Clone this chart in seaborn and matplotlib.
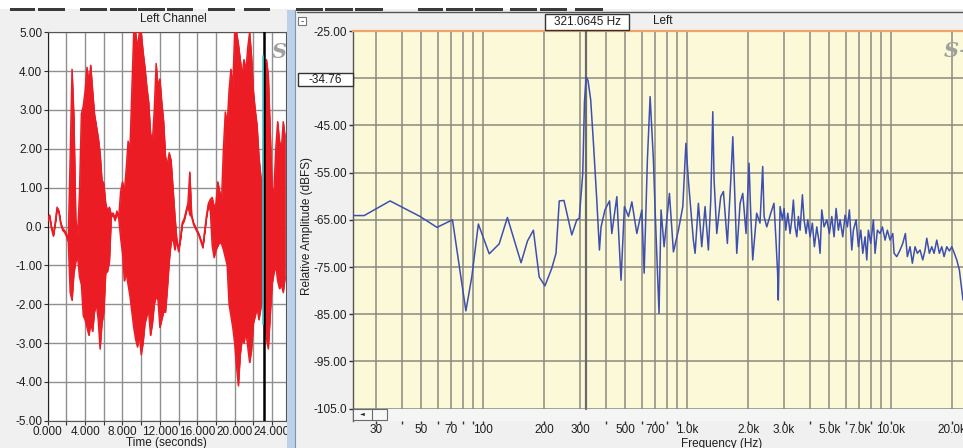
import numpy as np
import pandas as pd
import matplotlib
matplotlib.use("Agg")
import matplotlib.pyplot as plt
import seaborn as sns
from matplotlib.patches import Rectangle
from matplotlib.ticker import FixedLocator, FixedFormatter, NullFormatter

# ---------------- data ----------------
wave_step = 0.2  # seconds between envelope samples
wave_top = [
    0.2, 0.3, 0.0, -0.2, 0.1, 0.5, 0.4, 0.1, -0.05, -0.1,
    -0.2, -0.3, 1.8, 4.05, 2.8, 0.2, -0.2, 0.9, 2.9, 3.1,
    3.5, 4.1, 3.7, 4.15, 3.5, 2.9, 2.6, 2.3, 1.9, 1.2,
    1.1, 0.6, 0.4, 0.5, 0.3, 0.35, 0.2, 0.4, 0.25, 0.9,
    1.15, 0.9, 1.5, 2.2, 2.0, 3.5, 5.0, 5.0, 4.6, 5.0,
    5.0, 4.5, 4.1, 3.6, 3.2, 2.4, 2.2, 3.0, 4.2, 3.6,
    3.8, 3.2, 2.7, 1.8, 1.6, 1.9, 1.7, 1.0, 0.3, -0.3,
    -0.6, -0.3, 0.1, 0.2, 0.4, 0.6, 1.4, 0.3, 0.1, 0.0,
    -0.1, -0.2, -0.35, -0.5, -0.1, 0.3, 0.6, 0.7, 0.75, 0.5,
    0.6, 1.15, 0.9, 0.7, 2.0, 2.95, 2.6, 3.5, 4.05, 3.6,
    5.0, 5.0, 4.7, 4.3, 3.9, 4.3, 4.0, 4.6, 5.0, 4.4,
    3.5, 3.0, 2.6, 1.8, 1.3, 1.0, 3.5, 4.3, 3.9, 2.5,
    1.0, 0.9, 2.0, 2.7, 2.2, 2.0, 2.7, 2.3,
]
wave_bottom = [
    0.15, 0.25, -0.05, -0.25, 0.05, 0.45, 0.35, 0.05, -0.1, -0.15,
    -0.25, -0.4, -1.7, -1.9, -1.2, -0.9, -0.8, -1.3, -1.5, -2.3,
    -2.4, -2.6, -2.8, -2.5, -2.7, -2.2, -2.0, -2.4, -3.15, -2.5,
    -2.2, -1.2, -1.15, -0.9, 0.25, 0.3, 0.15, 0.35, 0.2, -0.3,
    -0.7, -1.4, -1.2, -1.5, -1.8, -2.2, -2.6, -2.9, -3.1, -2.8,
    -3.3, -3.0, -2.5, -2.3, -2.2, -2.8, -2.5, -2.0, -1.8, -1.9,
    -2.6, -2.4, -2.2, -2.2, -1.6, -0.9, -0.4, -0.3, -0.6, -0.35,
    -0.65, -0.35, 0.05, 0.15, 0.35, 0.55, 0.3, 0.25, 0.05, -0.05,
    -0.15, -0.25, -0.4, -0.55, -0.15, 0.25, 0.55, 0.4, -0.5, -0.8,
    -0.6, -0.5, -0.4, -0.45, -0.6, -0.8, -1.0, -2.0, -2.3, -2.6,
    -3.0, -3.6, -4.1, -3.3, -2.9, -3.0, -2.7, -3.1, -3.5, -3.2,
    -2.5, -2.3, -2.1, -2.4, -2.1, -1.8, -2.5, -2.9, -3.15, -2.3,
    -1.5, -1.2, -1.0, -1.4, -1.6, -1.5, -1.7, -1.3,
]
cursor_time = 23.17

spec_freq = [
    23.1, 26.2, 35.1, 49.3, 59.6, 71.0, 82.6, 88.3, 95.1, 107.5,
    120.3, 132, 154, 165.5, 177, 189, 201.6, 217.7, 228.5, 237,
    250, 273, 289, 297, 309, 315, 321.06, 328, 338, 348.7,
    362, 373, 380, 397, 418, 429, 454, 476, 494.5, 518,
    538, 569, 602, 618, 641, 661, 686, 699, 731, 748,
    774, 822, 860, 910, 956, 990, 1018, 1077, 1098, 1140,
    1184, 1229, 1276, 1311, 1341, 1361, 1403, 1467, 1512, 1581,
    1643, 1681, 1712, 1758, 1825, 1881, 1952, 2019, 2058, 2105,
    2201, 2285, 2356, 2393, 2467, 2581, 2675, 2737, 2788, 2809,
    2867, 2943, 2999, 3057, 3127, 3209, 3271, 3331, 3396, 3462,
    3525, 3593, 3688, 3758, 3844, 3918, 4021, 4127, 4222, 4338,
    4437, 4502, 4589, 4710, 4857, 5000, 5138, 5272, 5395, 5536,
    5643, 5817, 5970, 6128, 6268, 6440, 6558, 6760, 6938, 7128,
    7290, 7482, 7628, 7766, 7980, 8217, 8375, 8597, 8863, 9097,
    9377, 9623, 9922, 10228, 10380, 10700, 11106, 11449, 11792, 12061,
    12432, 12760, 13154, 13500, 13917, 14350, 14727, 15014, 15460, 15885,
    16304, 16807, 17306, 17783, 18253, 18816, 19379, 19908, 20502, 21062,
    21692, 22284, 22600,
]
spec_db = [
    -64.1, -64.1, -61.0, -64.3, -66.6, -65.0, -84.3, -77.1, -65.9, -72.2,
    -70.1, -64.5, -74.1, -69.5, -67.2, -77.1, -79.0, -75.3, -72.1, -61.0,
    -60.9, -68.2, -65.0, -64.7, -55.2, -40.0, -34.76, -35.5, -39.6, -48.8,
    -60.8, -71.4, -66.5, -62.9, -61.0, -67.9, -60.1, -77.8, -62.2, -64.3,
    -61.2, -67.9, -62.9, -76.3, -52.3, -38.9, -52.3, -62.6, -84.8, -62.9,
    -70.7, -59.4, -71.8, -67.2, -62.2, -48.8, -56.6, -69.3, -72.1, -61.5,
    -70.7, -62.2, -71.4, -60.8, -42.1, -56.6, -67.9, -60.1, -59.0, -70.0,
    -56.6, -47.4, -57.3, -72.1, -61.5, -59.4, -67.9, -53.0, -63.6, -73.5,
    -63.6, -65.7, -53.7, -64.3, -66.5, -63.6, -61.5, -69.3, -76.3, -82.0,
    -62.2, -65.0, -62.6, -67.2, -63.6, -67.9, -65.0, -60.8, -66.5, -68.6,
    -64.3, -67.2, -59.7, -65.0, -67.9, -65.0, -68.6, -65.7, -70.7, -66.5,
    -69.3, -72.1, -62.9, -66.5, -65.0, -67.9, -64.3, -68.6, -62.6, -67.2,
    -65.0, -68.6, -64.0, -66.5, -62.9, -71.4, -67.2, -65.0, -70.7, -67.2,
    -72.1, -68.6, -73.5, -67.2, -70.0, -65.0, -72.1, -67.2, -67.9, -66.5,
    -69.3, -67.2, -69.3, -67.9, -72.1, -72.8, -71.4, -70.0, -67.9, -72.8,
    -70.7, -74.2, -70.7, -72.1, -71.4, -73.5, -71.4, -68.9, -72.1, -70.7,
    -72.1, -69.3, -72.1, -70.7, -72.8, -70.7, -71.6, -70.7, -72.1, -73.5,
    -75.6, -79.9, -82.0,
]
peak_freq_label = "321.0645 Hz"
peak_db_label = "-34.76"
peak_freq = 321.0645

time_tick_vals = [0, 4, 8, 12, 16, 20, 24]
time_tick_labels = ["0.000", "4.000", "8.000", "12.000", "16.000", "20.000", "24.000"]
amp_tick_vals = [5, 4, 3, 2, 1, 0, -1, -2, -3, -4, -5]
amp_tick_labels = ["5.00", "4.00", "3.00", "2.00", "1.00", "0.0",
                   "-1.00", "-2.00", "-3.00", "-4.00", "-5.00"]
freq_major = [30, 50, 70, 100, 200, 300, 500, 700, 1000, 2000, 3000, 5000, 7000, 10000, 20000]
freq_major_labels = ["30", "50", "70", "100", "200", "300", "500", "700", "1.0k",
                     "2.0k", "3.0k", "5.0k", "7.0k", "10.0k", "20.0k"]
freq_minor = [40, 60, 80, 90, 400, 600, 800, 900, 4000, 6000, 8000, 9000]
db_tick_vals = [-25, -35, -45, -55, -65, -75, -85, -95, -105]
db_tick_labels = ["-25.00", "", "-45.00", "-55.00", "-65.00", "-75.00", "-85.00", "-95.00", "-105.0"]

# ---------------- style ----------------
sns.set_theme(style="white")
plt.rcParams['font.family'] = ['Liberation Sans', 'DejaVu Sans']
plt.rcParams['font.size'] = 8

W, H = 963, 448
fig = plt.figure(figsize=(W / 100, H / 100), dpi=100, facecolor='#f0f0f0')

def fx(px):
    return px / W

def fy(py):
    return 1 - py / H

TXT = '#1e1e1e'

# top toolbar remnants
fig.patches.append(Rectangle((0, fy(9)), 1, 1 - fy(9), transform=fig.transFigure,
                             facecolor='white', edgecolor='none', zorder=0))
for x0, x1 in [(10, 35), (38, 65), (80, 107), (110, 137), (138, 165), (167, 193), (208, 235), (244, 270),
               (296, 323), (325, 353), (355, 383), (418, 443), (446, 473), (475, 503), (510, 537),
               (540, 567), (575, 603)]:
    fig.patches.append(Rectangle((fx(x0), fy(11)), fx(x1 - x0), 3 / H, transform=fig.transFigure,
                                 facecolor='#3a3a3a', edgecolor='none', zorder=1))
fig.lines.append(plt.Line2D([fx(297), 1], [fy(12), fy(12)], transform=fig.transFigure,
                            color='#555555', lw=1))
# blue splitter
fig.patches.append(Rectangle((fx(287), 0), fx(8), fy(10), transform=fig.transFigure,
                             facecolor='#bcd0ea', edgecolor='none', zorder=1))
fig.lines.append(plt.Line2D([fx(295), fx(295)], [0, fy(10)], transform=fig.transFigure,
                            color='#7d93b0', lw=0.8))

# ---------------- left: waveform ----------------
axL = fig.add_axes([fx(47.7), fy(420.7), fx(286 - 47.7), (420.7 - 32.3) / H])
axL.set_facecolor('white')
wave = pd.DataFrame({
    'time': np.arange(len(wave_top)) * wave_step,
    'top': wave_top,
    'bottom': wave_bottom,
})
axL.fill_between(wave['time'], wave['bottom'], wave['top'], color='#ec1c24', lw=0.5,
                 edgecolor='#ec1c24', zorder=3)
sns.lineplot(data=wave, x='time', y='top', ax=axL, color='#ec1c24', lw=1.0, zorder=3)
sns.lineplot(data=wave, x='time', y='bottom', ax=axL, color='#ec1c24', lw=1.0, zorder=3)
axL.axvline(cursor_time, color='black', lw=1.8, zorder=4)
axL.plot([cursor_time - 0.12, cursor_time - 0.12], [-2.5, 4.4], color='#3cc6d0', lw=1.2, zorder=5)

axL.set_xlim(0, 25.5)
axL.set_ylim(-5, 5)
axL.xaxis.set_major_locator(FixedLocator(time_tick_vals))
axL.xaxis.set_major_formatter(FixedFormatter(time_tick_labels))
axL.xaxis.set_minor_locator(FixedLocator([2, 6, 10, 14, 18, 22]))
axL.yaxis.set_major_locator(FixedLocator(amp_tick_vals))
axL.yaxis.set_major_formatter(FixedFormatter(amp_tick_labels))
axL.grid(True, which='both', color='#8f8f8f', lw=1.0)
axL.set_axisbelow(True)
axL.tick_params(axis='both', which='both', direction='out', length=3, width=0.8,
                color='#333333', labelsize=8.5, labelcolor=TXT, pad=1)
axL.tick_params(axis='x', which='both', bottom=True)
axL.tick_params(axis='y', left=True)
for side, sp in axL.spines.items():
    sp.set_color('#555555')
    sp.set_linewidth(0.8)
axL.spines['left'].set_color('#222222')
axL.set_xlabel('Time (seconds)', fontsize=8.5, color=TXT, labelpad=-1)
axL.set_ylabel('')
axL.text(0.94, 0.975, 'S', transform=axL.transAxes, ha='left', va='top', fontsize=15,
         family='DejaVu Serif', style='italic', weight='bold', color='#a0a0a0', clip_on=True, zorder=6)
fig.text(fx(173), fy(19), 'Left Channel', ha='center', va='center', fontsize=8.5, color=TXT)

# ---------------- right: spectrum ----------------
axR = fig.add_axes([fx(353), fy(420.9), fx(963 - 353), (420.9 - 31) / H])
axR.set_facecolor('#fcf9d9')
axR.set_xscale('log')
spec = pd.DataFrame({'freq': spec_freq, 'db': spec_db})
sns.lineplot(data=spec, x='freq', y='db', ax=axR, color='#3d4fb0', lw=1.1, zorder=4)
axR.set_xlim(23.1, 22600)
axR.set_ylim(-107.6, -25)
axR.xaxis.set_major_locator(FixedLocator(freq_major))
axR.xaxis.set_major_formatter(FixedFormatter(freq_major_labels))
axR.xaxis.set_minor_locator(FixedLocator(freq_minor))
axR.xaxis.set_minor_formatter(NullFormatter())
axR.yaxis.set_major_locator(FixedLocator(db_tick_vals))
axR.yaxis.set_major_formatter(FixedFormatter(db_tick_labels))
axR.grid(True, which='both', axis='x', color='#8a8a80', lw=1.1)
axR.grid(True, which='major', axis='y', color='#8a8a80', lw=1.1)
axR.set_axisbelow(True)
axR.tick_params(axis='y', which='both', direction='out', length=3, width=1,
                color='#333333', labelsize=8.5, labelcolor=TXT, pad=1.5, left=True)
axR.tick_params(axis='x', which='both', direction='out', length=2, width=1,
                color='#333333', labelsize=8.5, labelcolor=TXT, pad=0.5, bottom=True)
# scroll band below plotting area
axR.axhspan(-107.6, -105, color='#f5f5f5', zorder=2, lw=0)
axR.axvline(peak_freq, ymin=(-105 + 107.6) / 82.6, color='#6a6a6a', lw=1.6, zorder=3)
axR.spines['top'].set_color('#f2a468')
axR.spines['top'].set_linewidth(1.6)
axR.spines['right'].set_visible(False)
axR.spines['bottom'].set_visible(False)
axR.spines['left'].set_color('#555555')
axR.spines['left'].set_linewidth(1.0)
axR.set_xlabel('Frequency (Hz)', fontsize=8.5, color=TXT)
axR.xaxis.set_label_coords((722 - 353) / 610, -0.043)
axR.set_ylabel('Relative Amplitude (dBFS)', fontsize=8.5, color=TXT)
axR.yaxis.set_label_coords(-0.066, 0.5)
axR.text(0.968, 0.975, 'S+', transform=axR.transAxes, ha='left', va='top', fontsize=15,
         family='DejaVu Serif', style='italic', weight='bold', color='#a0a0a0', clip_on=True, zorder=6)

# scrollbar thumb at lower left
fig.patches.append(Rectangle((fx(353), fy(419.5)), fx(34), 11 / H, transform=fig.transFigure,
                             facecolor='#f7f7f7', edgecolor='#6a6a6a', lw=0.8, zorder=5))
fig.lines.append(plt.Line2D([fx(372), fx(372)], [fy(419.5), fy(408.5)], transform=fig.transFigure,
                            color='#6a6a6a', lw=0.8, zorder=6))
fig.text(fx(362), fy(414), '◄', ha='center', va='center', fontsize=4.5, color='#222222',
         family=['DejaVu Sans'], zorder=7)

# header widgets of spectrum panel
fig.patches.append(Rectangle((fx(298), fy(25)), fx(8), 8 / H, transform=fig.transFigure,
                             facecolor='white', edgecolor='#777777', lw=0.8, zorder=5))
fig.text(fx(302), fy(21), '-', ha='center', va='center', fontsize=7, color='#333333', zorder=6)
fig.patches.append(Rectangle((fx(545), fy(30)), fx(84), 16 / H, transform=fig.transFigure,
                             facecolor='white', edgecolor='#333333', lw=1.0, zorder=5))
fig.text(fx(587), fy(22), peak_freq_label, ha='center', va='center', fontsize=8.5, color=TXT, zorder=6)
fig.text(fx(663), fy(21), 'Left', ha='center', va='center', fontsize=8.5, color=TXT)
fig.patches.append(Rectangle((fx(298), fy(86)), fx(55), 13 / H, transform=fig.transFigure,
                             facecolor='white', edgecolor='#333333', lw=1.0, zorder=5))
fig.text(fx(308), fy(79.5), peak_db_label, ha='left', va='center', fontsize=8.5, color=TXT, zorder=6)

fig.savefig('out.png', dpi=100, facecolor=fig.get_facecolor())
